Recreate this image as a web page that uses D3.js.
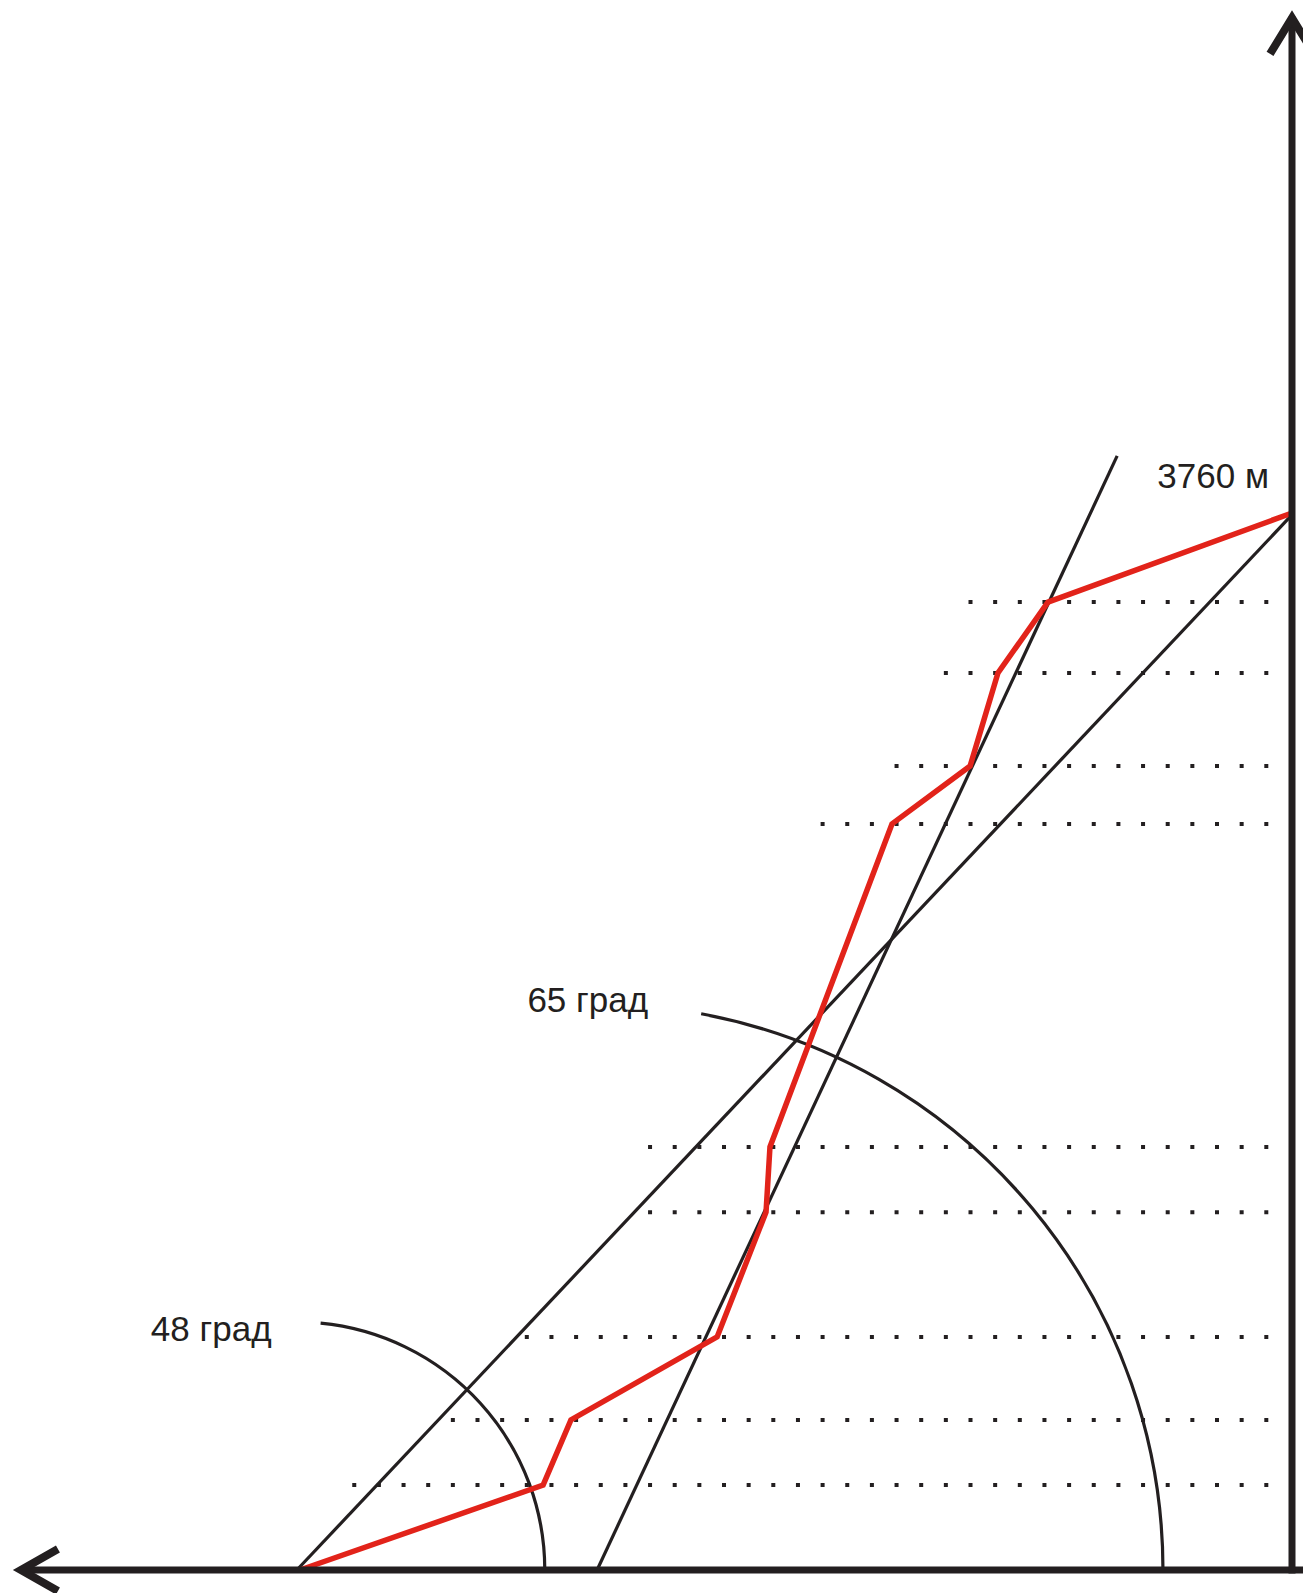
<!DOCTYPE html>
<html><head><meta charset="utf-8">
<script src="https://cdn.jsdelivr.net/npm/d3@7/dist/d3.min.js"></script>
<style>body{margin:0;background:#fff}svg{display:block}text{font-family:"Liberation Sans",Arial,sans-serif;fill:#231f20}</style>
</head><body>
<svg id="c" width="1303" height="1593"></svg>
<script>
// horizontal distance from the summit axis (m) and altitude (m) of the climbing profile
const profileDist = [3529, 2664, 2565, 2045, 1871, 1857, 1423, 1145, 1046, 868, 0];
const profileAlt  = [0, 302, 534, 829, 1273, 1505, 2654, 2860, 3191, 3443, 3760];
// dotted altitude levels and where each starts (distance)
const levelAlt   = [302, 534, 829, 1273, 1505, 2654, 2860, 3191, 3443];
const levelStart = [3337, 2988, 2725, 2301, 2287, 1672, 1409, 1234, 1145];
const levelEnd = 85;
// reference slope lines [dist0, alt0, dist1, alt1]
const slopeLines = [[3540, 0, 8, 3745], [2472, 0, 622, 3963]];
// angle arcs: centre distance, radius (m), start angle (deg), label
const arcCentre = [3540, 2472];
const arcRadius = [882, 2013];
const arcStartDeg = [84.5, 79.4];
const arcLabels = ["48 град", "65 град"];
const summitLabel = "3760 м";
const axisMaxDist = 4525, axisMaxAlt = 5525;

const svg = d3.select("#c");
const ink = "#231f20";
const k = 1057 / 3760; // px per metre
const x = d3.scaleLinear().domain([0, 3760 * 992 / 1057 + 1]).range([1292, 1292 - k * (3760 * 992 / 1057 + 1)]);
const y = d3.scaleLinear().domain([0, 3760]).range([1570, 513]);

// dotted levels
levelAlt.forEach((a, i) => {
  const x1 = x(levelEnd) + 0.2, x2 = x(levelStart[i]) - 2;
  svg.append("line").attr("x1", x1).attr("x2", x2).attr("y1", y(a)).attr("y2", y(a))
    .attr("stroke", ink).attr("stroke-width", 4)
    .attr("stroke-dasharray", "4 20.65");
});

// arcs
arcCentre.forEach((d, i) => {
  const p = d3.path();
  const r = arcRadius[i] * k;
  p.arc(x(d), y(0), r, -arcStartDeg[i] * Math.PI / 180, 0, false);
  svg.append("path").attr("d", p.toString()).attr("fill", "none").attr("stroke", ink).attr("stroke-width", 3.2);
  const sx = x(d) + r * Math.cos(arcStartDeg[i] * Math.PI / 180);
  const sy = y(0) - r * Math.sin(arcStartDeg[i] * Math.PI / 180);
  svg.append("text").attr("x", i === 0 ? sx - 49 : sx - 53).attr("y", i === 0 ? sy + 18 : sy - 2)
    .attr("text-anchor", "end").attr("font-size", 35).text(arcLabels[i]);
});

// slope lines
slopeLines.forEach(l => {
  svg.append("line").attr("x1", x(l[0])).attr("y1", y(l[1])).attr("x2", x(l[2])).attr("y2", y(l[3]))
    .attr("stroke", ink).attr("stroke-width", 3.2);
});

// red profile
const line = d3.line().x(d => x(d[0])).y(d => y(d[1]));
svg.append("path").datum(profileDist.map((d, i) => [d, profileAlt[i]]))
  .attr("d", line).attr("fill", "none").attr("stroke", "#e2231a").attr("stroke-width", 5.5)
  .attr("stroke-linejoin", "miter");

// axes
svg.append("line").attr("x1", x(0) + 12).attr("x2", x(axisMaxDist)).attr("y1", y(0)).attr("y2", y(0))
  .attr("stroke", ink).attr("stroke-width", 7);
svg.append("line").attr("x1", x(0)).attr("x2", x(0)).attr("y1", y(0) + 3.5).attr("y2", y(axisMaxAlt))
  .attr("stroke", ink).attr("stroke-width", 7);
svg.append("path").attr("d", `M${x(axisMaxDist)+38},${y(0)-21}L${x(axisMaxDist)+1},${y(0)}L${x(axisMaxDist)+38},${y(0)+21}`)
  .attr("fill", "none").attr("stroke", ink).attr("stroke-width", 8).attr("stroke-linejoin", "miter");
svg.append("path").attr("d", `M${x(0)-22},${y(axisMaxAlt)+37}L${x(0)},${y(axisMaxAlt)+1}L${x(0)+22},${y(axisMaxAlt)+37}`)
  .attr("fill", "none").attr("stroke", ink).attr("stroke-width", 8).attr("stroke-linejoin", "miter");

// summit label
svg.append("text").attr("x", x(0) - 23).attr("y", y(3760) - 25).attr("text-anchor", "end")
  .attr("font-size", 35).text(summitLabel);
</script>
</body></html>
